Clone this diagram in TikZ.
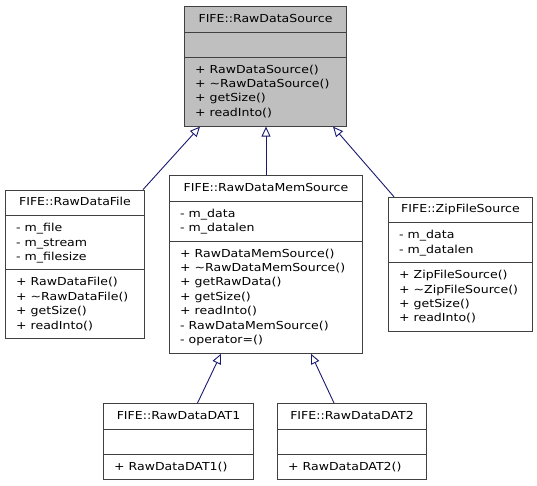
\documentclass[tikz,border=0pt]{standalone}
\usepackage{fontspec}
\setmainfont[FakeStretch=1.14]{DejaVu Sans}
\usetikzlibrary{arrows.meta}
\definecolor{edgeblue}{HTML}{191970}
\definecolor{rootgray}{HTML}{BFBFBF}
\definecolor{boxline}{HTML}{404040}

\begin{document}
\begin{tikzpicture}[x=1pt, y=-1pt,
  every node/.style = {inner sep=0pt, font=\fontsize{11pt}{14.4pt}\selectfont},
  classbox/.style = {draw=boxline, line width=1pt, fill=white, anchor=north west},
  title/.style = {anchor=base},
  member/.style = {anchor=base west},
  rule/.style = {draw=boxline, line width=1pt},
  inherit/.style = {draw=edgeblue, line width=0.9pt,
    -{Triangle[length=10pt, width=9pt, fill=white]}}]
  \useasboundingbox (0,0) rectangle (537,485);

  % base class
  \node[classbox, fill=rootgray, minimum width=162pt, minimum height=119.6pt] (src) at (184,6) {};
  \node[title] at ([yshift=-16pt]src.north) {FIFE::RawDataSource};
  \draw[rule] ([yshift=-26pt]src.north west) -- ([yshift=-26pt]src.north east);
  \draw[rule] ([yshift=-51pt]src.north west) -- ([yshift=-51pt]src.north east);
  \foreach \m [count=\i] in {+ RawDataSource(), + \textasciitilde RawDataSource(),
      + getSize(), + readInto()}
    \node[member] at ([xshift=11pt, yshift={-(52.6+14.4*\i)*1pt}]src.north west) {\m};

  % file source
  \node[classbox, minimum width=139pt, minimum height=148.8pt] (file) at (5,189.6) {};
  \node[title] at ([yshift=-16pt]file.north) {FIFE::RawDataFile};
  \draw[rule] ([yshift=-26pt]file.north west) -- ([yshift=-26pt]file.north east);
  \draw[rule] ([yshift=-80.2pt]file.north west) -- ([yshift=-80.2pt]file.north east);
  \foreach \m [count=\i] in {- m\_file, - m\_stream, - m\_filesize}
    \node[member] at ([xshift=11pt, yshift={-(27.6+14.4*\i)*1pt}]file.north west) {\m};
  \foreach \m [count=\i] in {+ RawDataFile(), + \textasciitilde RawDataFile(),
      + getSize(), + readInto()}
    \node[member] at ([xshift=11pt, yshift={-(81.8+14.4*\i)*1pt}]file.north west) {\m};

  % memory source
  \node[classbox, minimum width=193pt, minimum height=177.6pt] (mem) at (169,175.2) {};
  \node[title] at ([yshift=-16pt]mem.north) {FIFE::RawDataMemSource};
  \draw[rule] ([yshift=-26pt]mem.north west) -- ([yshift=-26pt]mem.north east);
  \draw[rule] ([yshift=-65.8pt]mem.north west) -- ([yshift=-65.8pt]mem.north east);
  \foreach \m [count=\i] in {- m\_data, - m\_datalen}
    \node[member] at ([xshift=11pt, yshift={-(27.6+14.4*\i)*1pt}]mem.north west) {\m};
  \foreach \m [count=\i] in {+ RawDataMemSource(), + \textasciitilde RawDataMemSource(),
      + getRawData(), + getSize(), + readInto(), - RawDataMemSource(), - operator=()}
    \node[member] at ([xshift=11pt, yshift={-(67.4+14.4*\i)*1pt}]mem.north west) {\m};

  % zip source
  \node[classbox, minimum width=144pt, minimum height=134.4pt] (zip) at (388,196.8) {};
  \node[title] at ([yshift=-16pt]zip.north) {FIFE::ZipFileSource};
  \draw[rule] ([yshift=-26pt]zip.north west) -- ([yshift=-26pt]zip.north east);
  \draw[rule] ([yshift=-65.8pt]zip.north west) -- ([yshift=-65.8pt]zip.north east);
  \foreach \m [count=\i] in {- m\_data, - m\_datalen}
    \node[member] at ([xshift=11pt, yshift={-(27.6+14.4*\i)*1pt}]zip.north west) {\m};
  \foreach \m [count=\i] in {+ ZipFileSource(), + \textasciitilde ZipFileSource(),
      + getSize(), + readInto()}
    \node[member] at ([xshift=11pt, yshift={-(67.4+14.4*\i)*1pt}]zip.north west) {\m};

  % DAT classes
  \node[classbox, minimum width=150pt, minimum height=76.4pt] (dat1) at (103,403) {};
  \node[title] at ([yshift=-16pt]dat1.north) {FIFE::RawDataDAT1};
  \draw[rule] ([yshift=-26pt]dat1.north west) -- ([yshift=-26pt]dat1.north east);
  \draw[rule] ([yshift=-51pt]dat1.north west) -- ([yshift=-51pt]dat1.north east);
  \node[member] at ([xshift=11pt, yshift=-67pt]dat1.north west) {+ RawDataDAT1()};

  \node[classbox, minimum width=149pt, minimum height=76.4pt] (dat2) at (277,403) {};
  \node[title] at ([yshift=-16pt]dat2.north) {FIFE::RawDataDAT2};
  \draw[rule] ([yshift=-26pt]dat2.north west) -- ([yshift=-26pt]dat2.north east);
  \draw[rule] ([yshift=-51pt]dat2.north west) -- ([yshift=-51pt]dat2.north east);
  \node[member] at ([xshift=11pt, yshift=-67pt]dat2.north west) {+ RawDataDAT2()};

  % inheritance
  \draw[inherit] ([xshift=-2pt]file.north east) -- ([xshift=16pt]src.south west);
  \draw[inherit] (mem.north) -- (mem.north |- src.south);
  \draw[inherit] ([xshift=6pt]zip.north west) -- ([xshift=-14pt]src.south east);
  \draw[inherit] ([xshift=19pt]dat1.north) -- ([xshift=-45pt]mem.south);
  \draw[inherit] ([xshift=-18pt]dat2.north) -- ([xshift=45pt]mem.south);
\end{tikzpicture}
\end{document}
